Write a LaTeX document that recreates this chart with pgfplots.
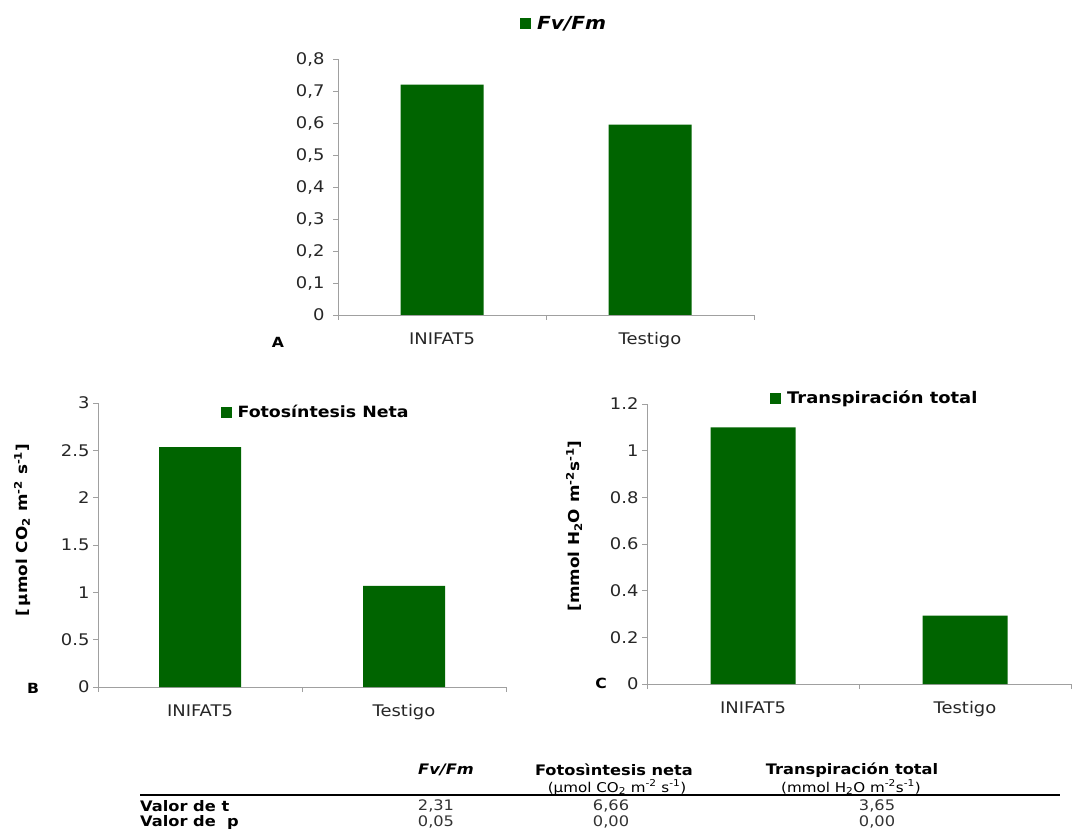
\documentclass[border=0pt]{standalone}
\usepackage{fontspec}
\setmainfont[FakeStretch=1.12]{DejaVu Sans}
\usepackage{pgfplots}
\pgfplotsset{compat=1.18}
\definecolor{bargreen}{RGB}{0,100,0}
\definecolor{axgray}{RGB}{160,160,160}
\pgfplotsset{
  panel/.style={
    scale only axis,
    axis lines*=left,
    axis line style={axgray, line width=0.8pt},
    ybar, bar shift=0pt,
    xmin=-0.5, xmax=1.5,
    ymin=0,
    xtick={-0.5,0.5,1.5},
    xticklabels={},
    extra x ticks={0,1},
    extra x tick labels={INIFAT5,Testigo},
    extra x tick style={major tick length=0pt},
    tick align=outside,
    major tick length=5pt,
    tick style={axgray, line width=0.8pt},
    tick label style={font=\fontsize{16}{18}\selectfont, text=black!85},
    xticklabel style={yshift=-14pt},
    /pgf/number format/assume math mode=true,
    legend style={draw=none, fill=none, inner sep=0pt, anchor=west, font=\bfseries},
    legend image code/.code={\fill[bargreen] (0pt,-5.5pt) rectangle (11pt,5.5pt); \path (15pt,0pt);},
    clip=false,
  },
}
\begin{document}
\begin{tikzpicture}[x=1pt,y=1pt]
\path[use as bounding box] (0,0) rectangle (1081,831);

% Panel A
\begin{axis}[panel, at={(338pt,516pt)}, anchor=south west,
  width=416pt, height=256pt, ymax=0.8,
  ytick={0,0.1,0.2,0.3,0.4,0.5,0.6,0.7,0.8},
  /pgf/number format/use comma, /pgf/number format/fixed, /pgf/number format/precision=1,
  yticklabel style={xshift=-5pt},
  bar width=83pt,
  legend style={at={(axis description cs:0.4375,1.137)}, font=\fontsize{18}{20}\selectfont\bfseries\itshape}]
\addplot[fill=bargreen, draw=none] coordinates {(0,0.72) (1,0.595)};
\addlegendentry{Fv/Fm}
\end{axis}

% Panel B
\begin{axis}[panel, at={(98pt,144pt)}, anchor=south west,
  width=408pt, height=284pt, ymax=3,
  ytick={0,0.5,1,1.5,2,2.5,3},
  bar width=82pt,
  ylabel={[\,µmol CO\textsubscript{2} m\textsuperscript{-2} s\textsuperscript{-1}]},
  ylabel style={font=\fontsize{15}{18}\selectfont\bfseries, at={(axis description cs:-0.186,0.553)}, anchor=center},
  legend style={at={(axis description cs:0.30,0.968)}, font=\fontsize{15.5}{18}\selectfont\bfseries}]
\addplot[fill=bargreen, draw=none] coordinates {(0,2.535) (1,1.067)};
\addlegendentry{Fotosíntesis Neta}
\end{axis}

% Panel C
\begin{axis}[panel, at={(647pt,147pt)}, anchor=south west,
  width=424pt, height=280pt, ymax=1.2,
  ytick={0,0.2,0.4,0.6,0.8,1,1.2},
  bar width=85pt,
  ylabel={[mmol H\textsubscript{2}O m\textsuperscript{-2}s\textsuperscript{-1}]},
  ylabel style={font=\fontsize{15}{18}\selectfont\bfseries, at={(axis description cs:-0.172,0.564)}, anchor=center},
  legend style={at={(axis description cs:0.29,1.021)}, font=\fontsize{16}{18}\selectfont\bfseries}]
\addplot[fill=bargreen, draw=none] coordinates {(0,1.1) (1,0.293)};
\addlegendentry{Transpiración total}
\end{axis}

% panel letters
\node[font=\fontsize{14}{16}\selectfont\bfseries] at (278,489) {A};
\node[font=\fontsize{14}{16}\selectfont\bfseries] at (33,143) {B};
\node[font=\fontsize{14}{16}\selectfont\bfseries] at (601,148) {C};

% table
\draw[line width=1.3pt] (140,36) -- (1060,36);
\node[font=\fontsize{14.5}{16}\selectfont\bfseries\itshape] at (446,61) {Fv/Fm};
\node[font=\fontsize{14.5}{16}\selectfont\bfseries] at (614,61) {Fotosìntesis neta};
\node[font=\fontsize{14.5}{16}\selectfont\bfseries] at (852,61) {Transpiración total};
\node[font=\fontsize{13.5}{15}\selectfont, anchor=base] at (617,39) {(µmol CO\textsubscript{2} m\textsuperscript{-2} s\textsuperscript{-1})};
\node[font=\fontsize{13.5}{15}\selectfont, anchor=base] at (851,39) {(mmol H\textsubscript{2}O m\textsuperscript{-2}s\textsuperscript{-1})};
\node[font=\fontsize{14.5}{16}\selectfont\bfseries, anchor=west, inner sep=0pt] at (140,25) {Valor de t};
\node[font=\fontsize{14.5}{16}\selectfont\bfseries, anchor=west, inner sep=0pt] at (140,9) {Valor de\ \ p};
\node[font=\fontsize{14.5}{16}\selectfont, text=black!80] at (436,25) {2,31};
\node[font=\fontsize{14.5}{16}\selectfont, text=black!80] at (611,25) {6,66};
\node[font=\fontsize{14.5}{16}\selectfont, text=black!80] at (877,25) {3,65};
\node[font=\fontsize{14.5}{16}\selectfont, text=black!80] at (436,9) {0,05};
\node[font=\fontsize{14.5}{16}\selectfont, text=black!80] at (611,9) {0,00};
\node[font=\fontsize{14.5}{16}\selectfont, text=black!80] at (877,9) {0,00};
\end{tikzpicture}
\end{document}
